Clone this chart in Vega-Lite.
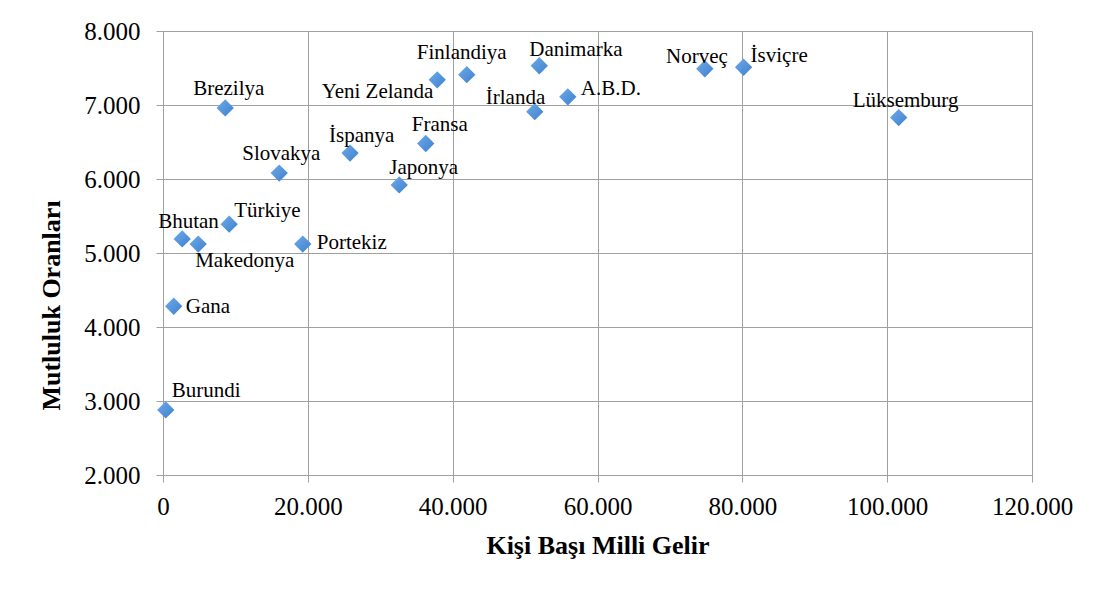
{
  "$schema": "https://vega.github.io/schema/vega-lite/v6.json",
  "width": 869,
  "height": 444,
  "autosize": "none",
  "padding": {"left": 163, "top": 31, "right": 73, "bottom": 116},
  "background": "white",
  "config": {
    "view": {"stroke": null},
    "font": "Liberation Serif",
    "axis": {
      "gridColor": "#a0a0a0",
      "gridWidth": 1,
      "domainColor": "#a0a0a0",
      "domainWidth": 1,
      "tickColor": "#a0a0a0",
      "tickWidth": 1,
      "tickSize": 7,
      "labelFont": "Liberation Serif",
      "labelFontSize": 25,
      "labelColor": "#000000",
      "titleFont": "Liberation Serif",
      "titleFontSize": 26,
      "titleFontWeight": "bold",
      "titleColor": "#000000",
      "labelOverlap": false,
      "labelBound": false,
      "labelFlush": false
    }
  },
  "data": {
    "values": [
      {"ulke": "Burundi", "gelir": 380, "mutluluk": 2.88},
      {"ulke": "Gana", "gelir": 1480, "mutluluk": 4.28},
      {"ulke": "Bhutan", "gelir": 2650, "mutluluk": 5.19},
      {"ulke": "Makedonya", "gelir": 4860, "mutluluk": 5.12},
      {"ulke": "Türkiye", "gelir": 9140, "mutluluk": 5.39},
      {"ulke": "Portekiz", "gelir": 19300, "mutluluk": 5.12},
      {"ulke": "Brezilya", "gelir": 8590, "mutluluk": 6.96},
      {"ulke": "Slovakya", "gelir": 16050, "mutluluk": 6.08},
      {"ulke": "İspanya", "gelir": 25830, "mutluluk": 6.35},
      {"ulke": "Japonya", "gelir": 32620, "mutluluk": 5.92},
      {"ulke": "Fransa", "gelir": 36280, "mutluluk": 6.48},
      {"ulke": "Yeni Zelanda", "gelir": 37870, "mutluluk": 7.34},
      {"ulke": "Finlandiya", "gelir": 41950, "mutluluk": 7.41},
      {"ulke": "İrlanda", "gelir": 51340, "mutluluk": 6.91},
      {"ulke": "Danimarka", "gelir": 51960, "mutluluk": 7.53},
      {"ulke": "A.B.D.", "gelir": 55900, "mutluluk": 7.11},
      {"ulke": "Norveç", "gelir": 74820, "mutluluk": 7.49},
      {"ulke": "İsviçre", "gelir": 80170, "mutluluk": 7.51},
      {"ulke": "Lüksemburg", "gelir": 101590, "mutluluk": 6.83}
    ]
  },
  "encoding": {
    "x": {
      "field": "gelir",
      "type": "quantitative",
      "scale": {"domain": [0, 120000], "nice": false},
      "axis": {
        "values": [0, 20000, 40000, 60000, 80000, 100000, 120000],
        "labelExpr": "replace(format(datum.value, ','), ',', '.')",
        "labelPadding": 12,
        "title": "Kişi Başı Milli Gelir",
        "titleY": 78,
        "titleBaseline": "alphabetic"
      }
    },
    "y": {
      "field": "mutluluk",
      "type": "quantitative",
      "scale": {"domain": [2, 8], "nice": false, "zero": false},
      "axis": {
        "values": [2, 3, 4, 5, 6, 7, 8],
        "format": ".3f",
        "labelPadding": 16,
        "title": "Mutluluk Oranları",
        "titleAngle": -90,
        "titleX": -103.5,
        "titleY": 274,
        "titleAlign": "center",
        "titleBaseline": "alphabetic"
      }
    }
  },
  "layer": [
    {
      "mark": {
        "type": "point",
        "shape": "diamond",
        "filled": true,
        "size": 300,
        "opacity": 1,
        "fill": {
          "gradient": "linear",
          "x1": 0, "y1": 0, "x2": 1, "y2": 1,
          "stops": [
            {"offset": 0, "color": "#6eaaea"},
            {"offset": 1, "color": "#3e80cc"}
          ]
        },
        "strokeWidth": 0
      }
    },
    {
      "encoding": {"text": {"field": "ulke"}},
      "layer": [
        {"transform": [{"filter": "datum.ulke === 'Burundi'"}], "mark": {"type": "text", "fontSize": 21, "align": "left", "baseline": "alphabetic", "color": "#000000", "dx": 6, "dy": -13}},
        {"transform": [{"filter": "datum.ulke === 'Gana'"}], "mark": {"type": "text", "fontSize": 21, "align": "left", "baseline": "alphabetic", "color": "#000000", "dx": 12, "dy": 7}},
        {"transform": [{"filter": "datum.ulke === 'Bhutan'"}], "mark": {"type": "text", "fontSize": 21, "align": "left", "baseline": "alphabetic", "color": "#000000", "dx": -24, "dy": -11}},
        {"transform": [{"filter": "datum.ulke === 'Makedonya'"}], "mark": {"type": "text", "fontSize": 21, "align": "left", "baseline": "alphabetic", "color": "#000000", "dx": -3, "dy": 23}},
        {"transform": [{"filter": "datum.ulke === 'Türkiye'"}], "mark": {"type": "text", "fontSize": 21, "align": "left", "baseline": "alphabetic", "color": "#000000", "dx": 5, "dy": -7}},
        {"transform": [{"filter": "datum.ulke === 'Portekiz'"}], "mark": {"type": "text", "fontSize": 21, "align": "left", "baseline": "alphabetic", "color": "#000000", "dx": 14, "dy": 5}},
        {"transform": [{"filter": "datum.ulke === 'Brezilya'"}], "mark": {"type": "text", "fontSize": 21, "align": "left", "baseline": "alphabetic", "color": "#000000", "dx": -32, "dy": -13}},
        {"transform": [{"filter": "datum.ulke === 'Slovakya'"}], "mark": {"type": "text", "fontSize": 21, "align": "left", "baseline": "alphabetic", "color": "#000000", "dx": -37, "dy": -13}},
        {"transform": [{"filter": "datum.ulke === 'İspanya'"}], "mark": {"type": "text", "fontSize": 21, "align": "left", "baseline": "alphabetic", "color": "#000000", "dx": -21, "dy": -11}},
        {"transform": [{"filter": "datum.ulke === 'Japonya'"}], "mark": {"type": "text", "fontSize": 21, "align": "left", "baseline": "alphabetic", "color": "#000000", "dx": -10, "dy": -11}},
        {"transform": [{"filter": "datum.ulke === 'Fransa'"}], "mark": {"type": "text", "fontSize": 21, "align": "left", "baseline": "alphabetic", "color": "#000000", "dx": -14, "dy": -12}},
        {"transform": [{"filter": "datum.ulke === 'Yeni Zelanda'"}], "mark": {"type": "text", "fontSize": 21, "align": "right", "baseline": "alphabetic", "color": "#000000", "dx": -4, "dy": 18}},
        {"transform": [{"filter": "datum.ulke === 'Finlandiya'"}], "mark": {"type": "text", "fontSize": 21, "align": "left", "baseline": "alphabetic", "color": "#000000", "dx": -50, "dy": -16}},
        {"transform": [{"filter": "datum.ulke === 'İrlanda'"}], "mark": {"type": "text", "fontSize": 21, "align": "left", "baseline": "alphabetic", "color": "#000000", "dx": -49, "dy": -8}},
        {"transform": [{"filter": "datum.ulke === 'Danimarka'"}], "mark": {"type": "text", "fontSize": 21, "align": "left", "baseline": "alphabetic", "color": "#000000", "dx": -10, "dy": -10}},
        {"transform": [{"filter": "datum.ulke === 'A.B.D.'"}], "mark": {"type": "text", "fontSize": 21, "align": "left", "baseline": "alphabetic", "color": "#000000", "dx": 13, "dy": -2}},
        {"transform": [{"filter": "datum.ulke === 'Norveç'"}], "mark": {"type": "text", "fontSize": 21, "align": "right", "baseline": "alphabetic", "color": "#000000", "dx": 23, "dy": -6}},
        {"transform": [{"filter": "datum.ulke === 'İsviçre'"}], "mark": {"type": "text", "fontSize": 21, "align": "left", "baseline": "alphabetic", "color": "#000000", "dx": 7, "dy": -5}},
        {"transform": [{"filter": "datum.ulke === 'Lüksemburg'"}], "mark": {"type": "text", "fontSize": 21, "align": "left", "baseline": "alphabetic", "color": "#000000", "dx": -46, "dy": -11}}
      ]
    }
  ]
}
